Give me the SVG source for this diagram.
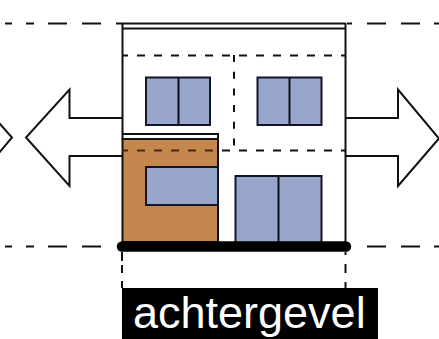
<svg xmlns="http://www.w3.org/2000/svg" width="439" height="339" viewBox="0 0 439 339">
<style>
.l{fill:none;stroke:#111;stroke-width:2}
.d{fill:none;stroke:#111;stroke-width:2;stroke-dasharray:8 9;stroke-dashoffset:2}
.g{fill:none;stroke:#111;stroke-width:2}
.w{fill:#98a6cb;stroke:#12152a;stroke-width:2}
.a{fill:#fff;stroke:#111;stroke-width:2;stroke-linejoin:miter}
</style>
<rect width="439" height="339" fill="#fff"/>
<g id="connectors">
<path class="g" d="M5 23.500H12M26 23.500H34M48 23.500H67M82 23.500H101M116 23.500H122M347 23.500H352M367 23.500H386M401 23.500H420M434 23.500H439"/>
<path class="g" d="M5 246.500H12M26 246.500H34M48 246.500H67M82 246.500H101M367 246.500H386M401 246.500H420M434 246.500H439"/>
<path class="g" d="M122 252V261M122 265V273M122 281V288M345.500 252V255M345.500 264V273M345.500 282V288"/>
</g>
<g id="arrow-left">
<path class="a" d="M122 118H69.500V89.500L26 137.500L69.500 186V156H122"/>
</g>
<g id="arrow-left-partial">
<path class="a" d="M-1 123L12 137.500L-1 153"/>
</g>
<g id="arrow-right">
<path class="a" d="M345.500 118H398V89.500L439 138.500L398 186V156H345.500"/>
</g>
<g id="house">
<path class="l" d="M122 23.500H345.500M122 28.500H345.500M122.500 23V140M345.500 23V243"/>
<path class="d" d="M122 55.500H345M122 150.500H345"/>
<path class="d" d="M234 55V150" style="stroke-dasharray:7 9.700;stroke-dashoffset:0"/>
</g>
<g id="window-top-left">
<rect class="w" x="146" y="77.500" width="64" height="47.500"/><path class="l" d="M178.500 77.500V125"/>
</g>
<g id="window-top-right">
<rect class="w" x="257.500" y="77.500" width="64" height="47.500"/><path class="l" d="M289.500 77.500V125"/>
</g>
<g id="extension">
<rect x="122.500" y="139" width="95.500" height="103" fill="#c4874e" stroke="#111" stroke-width="2"/>
<path class="l" d="M122.500 134H218V139"/>
<path d="M122 150.500H217" fill="none" stroke="#4a2410" stroke-width="2" stroke-dasharray="8 9" stroke-dashoffset="2"/>
<rect class="w" x="146" y="167" width="72" height="38"/>
</g>
<g id="door">
<rect class="w" x="235.500" y="176" width="86" height="67"/><path class="l" d="M278.500 176V243"/>
</g>
<g id="ground">
<path d="M122 246.500H346" stroke="#000" stroke-width="10.500" stroke-linecap="round" fill="none"/>
</g>
<g id="label">
<rect x="122" y="288" width="256" height="51" fill="#000"/>
<text x="133" y="328" font-family="'Liberation Sans',Arial,sans-serif" font-size="45" fill="#fff">achtergevel</text>
</g>
</svg>
